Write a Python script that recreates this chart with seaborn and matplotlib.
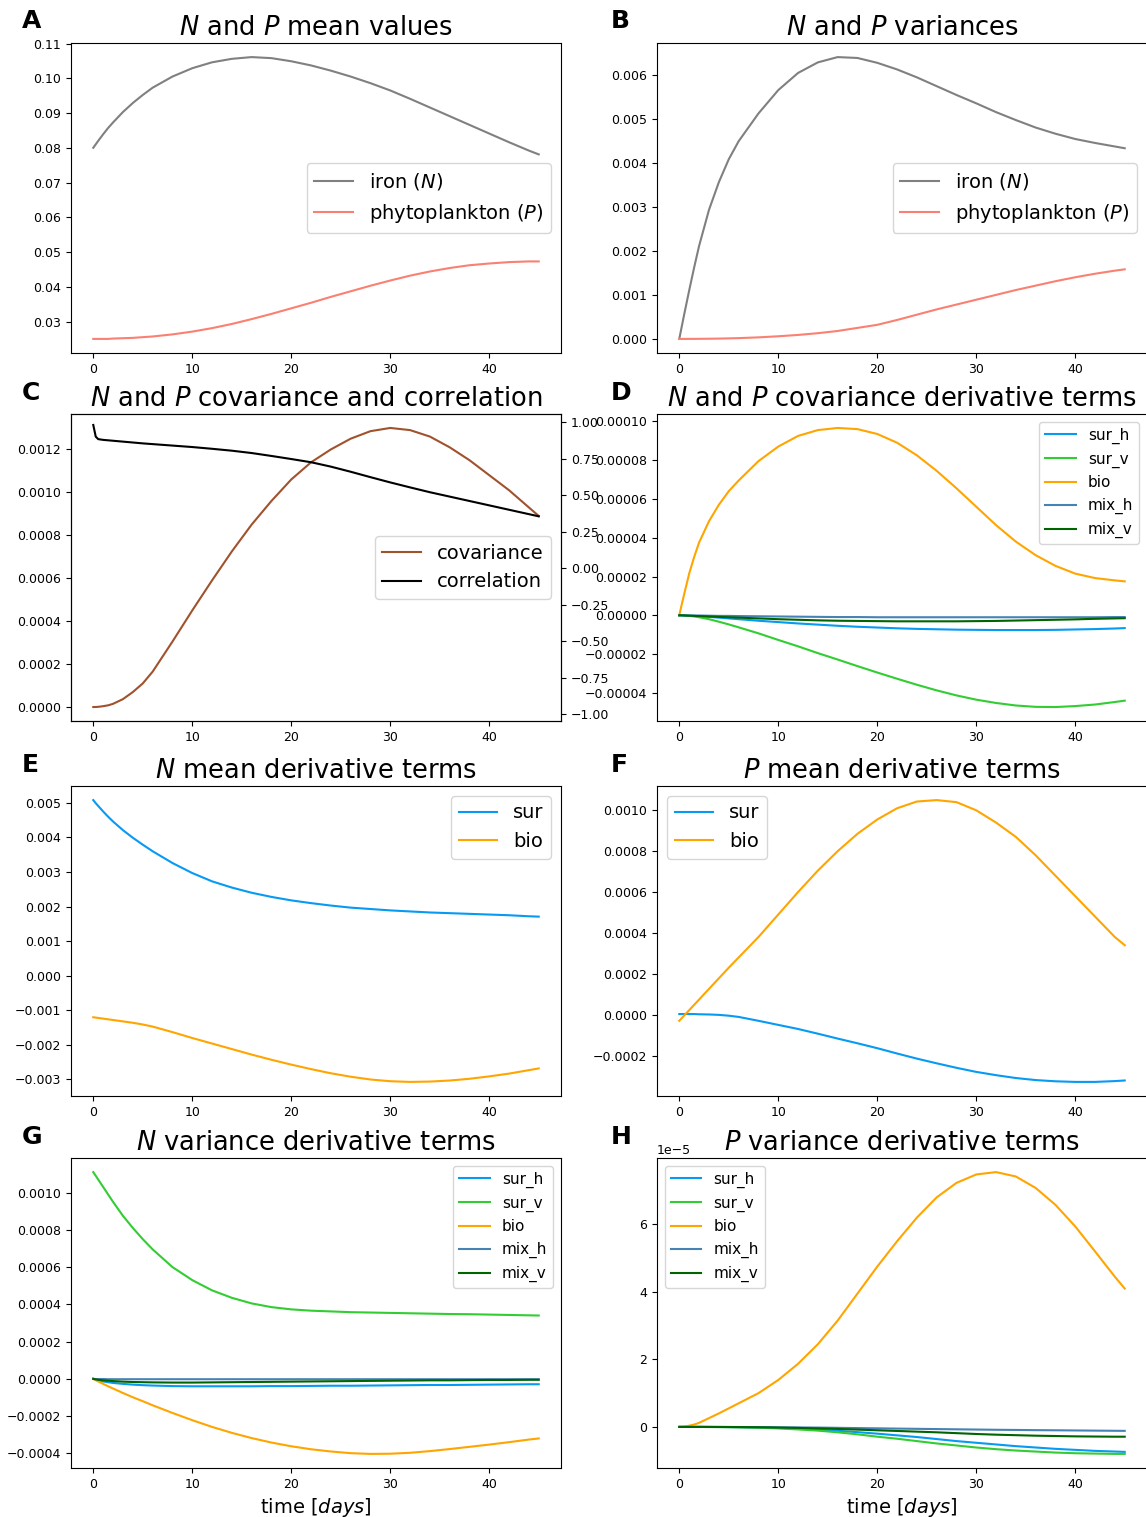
import matplotlib

matplotlib.use("Agg")

import matplotlib.pyplot as plt
import numpy as np
import seaborn as sns

# time grid in days (denser near 0 where some curves move fast)
TIME = [0, 0.25, 0.5, 1, 1.5, 2, 3, 4, 5, 6, 8, 10, 12, 14, 16, 18, 20, 22, 24, 26,
        28, 30, 32, 34, 36, 38, 40, 42, 44, 45]

# A: mean values
A_IRON = [0.0800, 0.0810, 0.0820, 0.0839, 0.0857, 0.0873, 0.0903, 0.0929, 0.0952,
          0.0973, 0.1005, 0.1029, 0.1046, 0.1056, 0.1061, 0.1058, 0.1049, 0.1037,
          0.1022, 0.1005, 0.0986, 0.0965, 0.0941, 0.0916, 0.0891, 0.0866, 0.0841,
          0.0816, 0.0792, 0.0781]
A_PHYTO = [0.0250, 0.0250, 0.0250, 0.0250, 0.0250, 0.0251, 0.0252, 0.0253, 0.0255,
           0.0257, 0.0263, 0.0271, 0.0281, 0.0293, 0.0307, 0.0322, 0.0338, 0.0354,
           0.0371, 0.0387, 0.0403, 0.0418, 0.0432, 0.0444, 0.0454, 0.0462, 0.0467,
           0.0471, 0.0473, 0.0473]

# B: variances
B_IRON = [0.0, 0.00028, 0.00056, 0.0011, 0.00162, 0.00211, 0.00293, 0.00356, 0.00408,
          0.00449, 0.00512, 0.00565, 0.00604, 0.00628, 0.0064, 0.00638, 0.00627,
          0.00612, 0.00594, 0.00574, 0.00554, 0.00535, 0.00515, 0.00497, 0.0048,
          0.00466, 0.00454, 0.00445, 0.00437, 0.00433]
B_PHYTO = [0.0, 0.0, 0.0, 0.000001, 0.000001, 0.000002, 0.000004, 0.000007, 0.000012,
           0.000018, 0.000035, 0.00006, 0.00009, 0.00013, 0.00018, 0.00025, 0.00032,
           0.00043, 0.00055, 0.00067, 0.00078, 0.00089, 0.001, 0.00111, 0.00121,
           0.00131, 0.0014, 0.00148, 0.00155, 0.00158]

# C: covariance (left axis) and correlation (right axis)
C_COV = [0.0, 0.0000003, 0.000001, 0.000004, 0.000008, 0.000015, 0.000037, 0.00007,
         0.00011, 0.000165, 0.000305, 0.00045, 0.00059, 0.000725, 0.00085, 0.00096,
         0.00106, 0.00114, 0.0012, 0.00125, 0.001285, 0.0013, 0.00129, 0.00126,
         0.00121, 0.00115, 0.00108, 0.00101, 0.00093, 0.00089]
C_CORR = [0.98, 0.90, 0.883, 0.878, 0.875, 0.872, 0.866, 0.86, 0.854, 0.849, 0.839,
          0.829, 0.817, 0.804, 0.788, 0.768, 0.747, 0.725, 0.695, 0.66, 0.623, 0.587,
          0.553, 0.52, 0.49, 0.46, 0.43, 0.40, 0.37, 0.355]

# D: covariance derivative terms, in units of 1e-5
D_SUR_H = [0, 0, -0.01, -0.02, -0.03, -0.05, -0.08, -0.12, -0.16, -0.2, -0.28, -0.35,
           -0.42, -0.48, -0.54, -0.59, -0.63, -0.67, -0.7, -0.72, -0.74, -0.75, -0.76,
           -0.76, -0.76, -0.75, -0.73, -0.71, -0.68, -0.66]
D_SUR_V = [0, 0, -0.01, -0.03, -0.06, -0.1, -0.2, -0.33, -0.47, -0.62, -0.93, -1.27,
           -1.6, -1.95, -2.28, -2.62, -2.95, -3.27, -3.58, -3.87, -4.13, -4.35, -4.52,
           -4.65, -4.72, -4.73, -4.68, -4.6, -4.47, -4.4]
D_BIO = [0, 0.56, 1.1, 2.15, 3.0, 3.75, 4.85, 5.7, 6.4, 6.95, 7.95, 8.7, 9.25, 9.55,
         9.66, 9.6, 9.35, 8.9, 8.25, 7.45, 6.55, 5.6, 4.65, 3.8, 3.1, 2.55, 2.15, 1.92,
         1.8, 1.75]
D_MIX_H = [0, 0, 0, -0.01, -0.01, -0.01, -0.02, -0.03, -0.03, -0.04, -0.05, -0.06,
           -0.07, -0.08, -0.09, -0.09, -0.1, -0.1, -0.1, -0.1, -0.1, -0.1, -0.1, -0.1,
           -0.1, -0.1, -0.1, -0.1, -0.09, -0.09]
D_MIX_V = [0, 0, -0.01, -0.02, -0.03, -0.04, -0.06, -0.08, -0.1, -0.12, -0.16, -0.2,
           -0.23, -0.26, -0.28, -0.29, -0.3, -0.31, -0.31, -0.31, -0.31, -0.3, -0.29,
           -0.27, -0.25, -0.23, -0.21, -0.18, -0.16, -0.15]

# E: N mean derivative terms
E_SUR = [0.00508, 0.00499, 0.00491, 0.00475, 0.0046, 0.00446, 0.00421, 0.00399,
         0.00379, 0.0036, 0.00326, 0.00297, 0.00273, 0.00255, 0.0024, 0.00228,
         0.00218, 0.0021, 0.00203, 0.00197, 0.00193, 0.00189, 0.00186, 0.00183,
         0.00181, 0.00179, 0.00177, 0.00175, 0.00172, 0.00171]
E_BIO = [-0.0012, -0.00121, -0.00122, -0.00124, -0.00126, -0.00128, -0.00132,
         -0.00136, -0.00141, -0.00147, -0.00163, -0.0018, -0.00196, -0.00212,
         -0.00228, -0.00243, -0.00257, -0.0027, -0.00282, -0.00292, -0.003, -0.00305,
         -0.00307, -0.00306, -0.00303, -0.00298, -0.00291, -0.00283, -0.00273,
         -0.00268]

# F: P mean derivative terms
F_SUR = [0.000003, 0.000003, 0.000003, 0.000003, 0.000003, 0.000002, 0.000001,
         -0.000001, -0.000005, -0.000011, -0.00003, -0.00005, -0.00007, -0.000093,
         -0.000117, -0.00014, -0.000164, -0.00019, -0.000215, -0.000238, -0.00026,
         -0.00028, -0.000296, -0.00031, -0.00032, -0.000326, -0.000329, -0.000329,
         -0.000325, -0.000322]
F_BIO = [-0.00003, -0.000017, -0.000004, 0.000022, 0.000048, 0.000074, 0.000126,
         0.000178, 0.00023, 0.00028, 0.00038, 0.00049, 0.0006, 0.000705, 0.0008,
         0.000885, 0.000955, 0.00101, 0.001043, 0.00105, 0.00104, 0.001, 0.00094,
         0.00087, 0.00078, 0.00068, 0.00058, 0.00048, 0.00038, 0.00034]

# G: N variance derivative terms
G_SUR_H = [0, -0.000004, -0.000008, -0.000014, -0.000018, -0.000022, -0.000027,
           -0.000031, -0.000034, -0.000036, -0.000039, -0.00004, -0.00004, -0.00004,
           -0.00004, -0.000039, -0.000039, -0.000038, -0.000037, -0.000037,
           -0.000036, -0.000035, -0.000034, -0.000033, -0.000033, -0.000032,
           -0.000031, -0.00003, -0.000029, -0.000029]
G_SUR_V = [0.00111, 0.00109, 0.00107, 0.00103, 0.00099, 0.00095, 0.000875, 0.00081,
           0.00075, 0.000695, 0.0006, 0.00053, 0.000475, 0.000435, 0.000405, 0.000385,
           0.000373, 0.000366, 0.000362, 0.000358, 0.000356, 0.000354, 0.000352,
           0.00035, 0.000348, 0.000347, 0.000345, 0.000343, 0.000341, 0.00034]
G_BIO = [0, -0.000007, -0.000014, -0.000027, -0.00004, -0.000052, -0.000076,
         -0.000099, -0.00012, -0.000142, -0.000183, -0.000222, -0.000258, -0.00029,
         -0.000318, -0.000342, -0.000362, -0.000378, -0.00039, -0.000399, -0.000403,
         -0.000402, -0.000397, -0.000388, -0.000377, -0.000365, -0.000353, -0.00034,
         -0.000326, -0.00032]
G_MIX_H = [0, -0.000001, -0.000001, -0.000001, -0.000002, -0.000002, -0.000002,
           -0.000002, -0.000002, -0.000002, -0.000002, -0.000002, -0.000002,
           -0.000002, -0.000002, -0.000002, -0.000002, -0.000002, -0.000002,
           -0.000002, -0.000002, -0.000002, -0.000002, -0.000002, -0.000002,
           -0.000002, -0.000002, -0.000002, -0.000002, -0.000002]
G_MIX_V = [0, -0.000003, -0.000005, -0.000008, -0.00001, -0.000012, -0.000015,
           -0.000017, -0.000018, -0.000019, -0.00002, -0.00002, -0.000019, -0.000018,
           -0.000017, -0.000016, -0.000015, -0.000014, -0.000013, -0.000012,
           -0.000011, -0.00001, -0.000009, -0.000008, -0.000008, -0.000007,
           -0.000006, -0.000006, -0.000005, -0.000005]

# H: P variance derivative terms, in units of 1e-5
H_SUR_H = [0, 0, 0, 0, 0, 0, -0.002, -0.003, -0.005, -0.008, -0.015, -0.03, -0.05,
           -0.08, -0.115, -0.155, -0.2, -0.25, -0.3, -0.36, -0.42, -0.47, -0.52, -0.57,
           -0.61, -0.65, -0.68, -0.71, -0.73, -0.74]
H_SUR_V = [0, 0, 0, 0, 0, 0, -0.003, -0.005, -0.008, -0.012, -0.025, -0.045, -0.075,
           -0.11, -0.16, -0.22, -0.29, -0.35, -0.42, -0.49, -0.55, -0.61, -0.66, -0.7,
           -0.73, -0.76, -0.78, -0.79, -0.8, -0.8]
H_BIO = [0, 0.003, 0.01, 0.035, 0.07, 0.12, 0.26, 0.4, 0.55, 0.7, 1.0, 1.39, 1.87,
         2.45, 3.15, 3.95, 4.75, 5.5, 6.2, 6.8, 7.23, 7.48, 7.55, 7.42, 7.08, 6.58,
         5.94, 5.2, 4.45, 4.1]
H_MIX_H = [0, 0, 0, 0, 0, 0, 0, -0.001, -0.002, -0.003, -0.006, -0.01, -0.015, -0.02,
           -0.027, -0.035, -0.042, -0.05, -0.057, -0.064, -0.071, -0.078, -0.085, -0.09,
           -0.096, -0.1, -0.105, -0.11, -0.115, -0.117]
H_MIX_V = [0, 0, 0, 0, 0, 0, -0.001, -0.002, -0.003, -0.005, -0.01, -0.02, -0.03,
           -0.045, -0.06, -0.08, -0.1, -0.12, -0.14, -0.16, -0.185, -0.21, -0.23, -0.245,
           -0.26, -0.27, -0.28, -0.285, -0.29, -0.29]

TERM_LABELS = ["sur_h", "sur_v", "bio", "mix_h", "mix_v"]
TERM_COLORS = ["#069af3", "#32cd32", "#ffa500", "#4682b4", "#006400"]

E5 = 1e-5
TITLE_SIZE = 18.5


def draw(ax, series, labels, colors):
    for values, label, color in zip(series, labels, colors):
        sns.lineplot(x=TIME, y=values, color=color, label=label, linewidth=1.5,
                     legend=False, ax=ax)


def main() -> None:
    plt.rcParams.update({
        "xtick.labelsize": 9,
        "ytick.labelsize": 9,
        "mathtext.fontset": "dejavusans",
    })
    fig = plt.figure(figsize=(11.46, 15.17), dpi=100)

    W, H = 1146, 1517
    cols = [71, 657]
    width = 490
    rows = [(43, 353), (414, 721), (786, 1096), (1158, 1468)]
    axes = []
    for top, bottom in rows:
        for left in cols:
            axes.append(fig.add_axes([left / W, 1 - bottom / H, width / W,
                                      (bottom - top) / H]))
    ax_a, ax_b, ax_c, ax_d, ax_e, ax_f, ax_g, ax_h = axes

    # A
    draw(ax_a, [A_IRON, A_PHYTO], ["iron ($N$)", "phytoplankton ($P$)"],
         ["gray", "salmon"])
    ax_a.legend(loc="center right", fontsize=14)
    ax_a.set_title("$N$ and $P$ mean values", fontsize=TITLE_SIZE)

    # B
    draw(ax_b, [B_IRON, B_PHYTO], ["iron ($N$)", "phytoplankton ($P$)"],
         ["gray", "salmon"])
    ax_b.legend(loc="center right", fontsize=14)
    ax_b.set_title("$N$ and $P$ variances", fontsize=TITLE_SIZE)

    # C
    draw(ax_c, [C_COV], ["covariance"], ["sienna"])
    ax_c2 = ax_c.twinx()
    draw(ax_c2, [C_CORR], ["correlation"], ["black"])
    ax_c2.set_ylim(-1.045, 1.055)
    ax_c2.set_ylabel("")
    handles = ax_c.get_lines() + ax_c2.get_lines()
    ax_c2.legend(handles, ["covariance", "correlation"], loc="center right",
                 fontsize=14)
    ax_c.set_title("$N$ and $P$ covariance and correlation", fontsize=TITLE_SIZE)

    # D
    draw(ax_d, [np.array(s) * E5 for s in (D_SUR_H, D_SUR_V, D_BIO, D_MIX_H, D_MIX_V)],
         TERM_LABELS, TERM_COLORS)
    ax_d.legend(loc="upper right", fontsize=11)
    ax_d.set_title("$N$ and $P$ covariance derivative terms", fontsize=TITLE_SIZE)

    # E
    draw(ax_e, [E_SUR, E_BIO], ["sur", "bio"], [TERM_COLORS[0], TERM_COLORS[2]])
    ax_e.legend(loc="upper right", fontsize=14)
    ax_e.set_title("$N$ mean derivative terms", fontsize=TITLE_SIZE)

    # F
    draw(ax_f, [F_SUR, F_BIO], ["sur", "bio"], [TERM_COLORS[0], TERM_COLORS[2]])
    ax_f.legend(loc="upper left", fontsize=14)
    ax_f.set_title("$P$ mean derivative terms", fontsize=TITLE_SIZE)

    # G
    draw(ax_g, [G_SUR_H, G_SUR_V, G_BIO, G_MIX_H, G_MIX_V], TERM_LABELS, TERM_COLORS)
    ax_g.legend(loc="upper right", fontsize=11)
    ax_g.set_title("$N$ variance derivative terms", fontsize=TITLE_SIZE)

    # H
    draw(ax_h, [np.array(s) * E5 for s in (H_SUR_H, H_SUR_V, H_BIO, H_MIX_H, H_MIX_V)],
         TERM_LABELS, TERM_COLORS)
    ax_h.legend(loc="upper left", fontsize=11)
    ax_h.set_title("$P$ variance derivative terms", fontsize=TITLE_SIZE)

    for ax in axes:
        ax.set_ylabel("")
    ax_g.set_xlabel("time [$days$]", fontsize=14)
    ax_h.set_xlabel("time [$days$]", fontsize=14)

    letters = "ABCDEFGH"
    baselines = [28, 400, 772, 1144]
    for i, letter in enumerate(letters):
        x = 22 if i % 2 == 0 else 611
        y = baselines[i // 2]
        fig.text(x / W, 1 - y / H, letter, fontsize=18, fontweight="bold",
                 va="baseline", ha="left")

    fig.savefig("out.png", dpi=100)
    plt.close(fig)


if __name__ == "__main__":
    main()
